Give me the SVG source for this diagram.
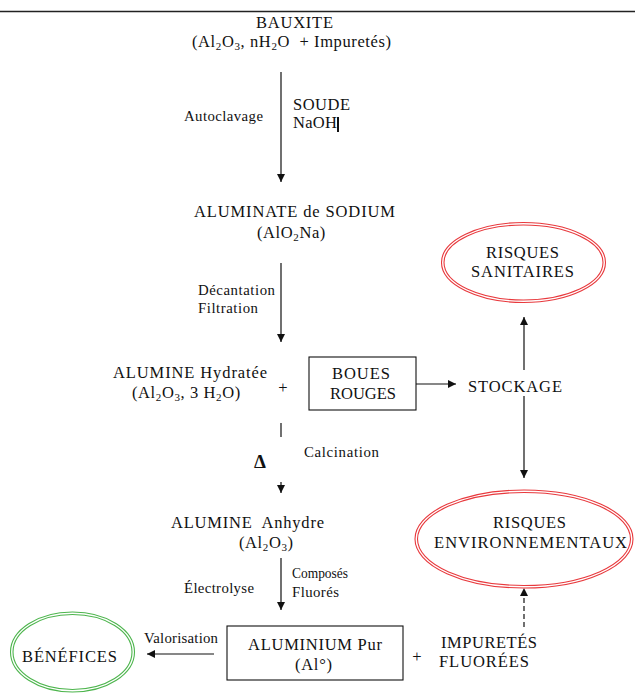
<svg xmlns="http://www.w3.org/2000/svg" width="635" height="693" viewBox="0 0 635 693">
<style>
text{font-family:"Liberation Serif","Times New Roman",serif;fill:#111}
.L{font-size:16.5px}
.S{font-size:14.8px}
.sub{font-size:11px}
.ln{stroke:#111;stroke-width:1.2;fill:none}
.red{fill:none;stroke:#e8393d;stroke-width:1.1}
.grn{fill:none;stroke:#4db54d;stroke-width:1.1}
.box{fill:#fff;stroke:#111;stroke-width:1.1}
</style>
<defs>
<marker id="ah" markerUnits="userSpaceOnUse" markerWidth="9" markerHeight="8" refX="8" refY="4" orient="auto">
<path d="M0,0 L8,4 L0,8 z" fill="#111"/>
</marker>
</defs>
<line x1="0" y1="11.5" x2="635" y2="11.5" stroke="#222" stroke-width="1.3"/>

<g id="connectors">
<line class="ln" x1="281" y1="72" x2="281" y2="182" marker-end="url(#ah)"/>
<line class="ln" x1="281" y1="263" x2="281" y2="342" marker-end="url(#ah)"/>
<line class="ln" x1="281" y1="423" x2="281" y2="437"/>
<line class="ln" x1="281" y1="482" x2="281" y2="493" marker-end="url(#ah)"/>
<line class="ln" x1="281" y1="558" x2="281" y2="610" marker-end="url(#ah)"/>
<line class="ln" x1="416" y1="384" x2="456" y2="384" marker-end="url(#ah)"/>
<line class="ln" x1="524" y1="370" x2="524" y2="317" marker-end="url(#ah)"/>
<line class="ln" x1="524" y1="396" x2="524" y2="478" marker-end="url(#ah)"/>
<line class="ln" x1="524" y1="627" x2="524" y2="588" stroke-dasharray="5,3" marker-end="url(#ah)"/>
<line class="ln" x1="214" y1="654" x2="147" y2="654" marker-end="url(#ah)"/>
</g>

<g id="bauxite">
<text class="L" x="256" y="28" textLength="77" lengthAdjust="spacing">BAUXITE</text>
<text class="L" x="192" y="47" letter-spacing="0.6" xml:space="preserve">(Al<tspan class="sub" dy="3">2</tspan><tspan dy="-3">O</tspan><tspan class="sub" dy="3">3</tspan><tspan dy="-3">, nH</tspan><tspan class="sub" dy="3">2</tspan><tspan dy="-3">O  + Impuretés)</tspan></text>
</g>

<g id="soude">
<text class="L" x="293" y="110" textLength="57" lengthAdjust="spacing">SOUDE</text>
<text class="L" x="293" y="128" textLength="44" lengthAdjust="spacing">NaOH</text>
<rect x="337" y="117" width="2" height="15" fill="#111"/>
</g>
<text id="autoclavage" class="S" x="184" y="121" textLength="79" lengthAdjust="spacing">Autoclavage</text>

<g id="aluminate">
<text class="L" x="194" y="217" textLength="201" lengthAdjust="spacing">ALUMINATE de SODIUM</text>
<text class="L" x="257" y="238" letter-spacing="0.6">(AlO<tspan class="sub" dy="3">2</tspan><tspan dy="-3">Na)</tspan></text>
</g>

<g id="decantation">
<text class="S" x="198" y="295" textLength="77" lengthAdjust="spacing">Décantation</text>
<text class="S" x="198" y="313" textLength="60" lengthAdjust="spacing">Filtration</text>
</g>

<g id="alumine-hydratee">
<text class="L" x="113" y="378" textLength="154" lengthAdjust="spacing">ALUMINE Hydratée</text>
<text class="L" x="132" y="398" letter-spacing="0.6">(Al<tspan class="sub" dy="3">2</tspan><tspan dy="-3">O</tspan><tspan class="sub" dy="3">3</tspan><tspan dy="-3">, 3 H</tspan><tspan class="sub" dy="3">2</tspan><tspan dy="-3">O)</tspan></text>
</g>
<text class="L" x="283" y="393" text-anchor="middle">+</text>

<g id="boues-rouges">
<rect class="box" x="309" y="357" width="107" height="53"/>
<text class="L" x="332" y="379" textLength="58" lengthAdjust="spacing">BOUES</text>
<text class="L" x="330" y="399" textLength="66" lengthAdjust="spacing">ROUGES</text>
</g>

<g id="stockage">
<text class="L" x="468" y="392" textLength="94" lengthAdjust="spacing">STOCKAGE</text>
</g>

<g id="risques-sanitaires">
<ellipse class="red" cx="523.5" cy="262.5" rx="82" ry="40"/>
<ellipse class="red" cx="523.5" cy="262.5" rx="79.5" ry="37.5"/>
<text class="L" x="486" y="258" textLength="73" lengthAdjust="spacing">RISQUES</text>
<text class="L" x="471" y="277" textLength="103" lengthAdjust="spacing">SANITAIRES</text>
</g>

<g id="calcination">
<text x="254" y="468" font-weight="bold" font-size="19">Δ</text>
<text class="S" x="304" y="457" textLength="75" lengthAdjust="spacing">Calcination</text>
</g>

<g id="alumine-anhydre">
<text class="L" x="171" y="528" textLength="153" lengthAdjust="spacing" xml:space="preserve">ALUMINE  Anhydre</text>
<text class="L" x="239" y="548" letter-spacing="0.6">(Al<tspan class="sub" dy="3">2</tspan><tspan dy="-3">O</tspan><tspan class="sub" dy="3">3</tspan><tspan dy="-3">)</tspan></text>
</g>

<g id="electrolyse">
<text class="S" x="184" y="593" textLength="70" lengthAdjust="spacing">Électrolyse</text>
<text class="S" x="292" y="578" textLength="56" lengthAdjust="spacingAndGlyphs">Composés</text>
<text class="S" x="292" y="597" textLength="47" lengthAdjust="spacing">Fluorés</text>
</g>

<g id="risques-environnementaux">
<ellipse class="red" cx="524" cy="539" rx="109" ry="49"/>
<ellipse class="red" cx="524" cy="539" rx="106.5" ry="46.5"/>
<text class="L" x="493" y="528" textLength="73" lengthAdjust="spacing">RISQUES</text>
<text class="L" x="434" y="548" textLength="193" lengthAdjust="spacing">ENVIRONNEMENTAUX</text>
</g>

<g id="aluminium">
<rect class="box" x="227" y="626" width="176" height="54"/>
<text class="L" x="248" y="650" textLength="134" lengthAdjust="spacing">ALUMINIUM Pur</text>
<text class="L" x="295" y="670" textLength="37" lengthAdjust="spacing">(Al°)</text>
</g>
<text class="L" x="417" y="662" text-anchor="middle">+</text>

<g id="impuretes-fluorees">
<text class="L" x="441" y="648" textLength="96" lengthAdjust="spacing">IMPURETÉS</text>
<text class="L" x="439" y="667" textLength="90" lengthAdjust="spacing">FLUORÉES</text>
</g>

<text id="valorisation" class="S" x="144" y="643" textLength="74" lengthAdjust="spacing">Valorisation</text>

<g id="benefices">
<ellipse class="grn" cx="72.5" cy="652" rx="62" ry="40"/>
<ellipse class="grn" cx="72.5" cy="652" rx="59.5" ry="37.5"/>
<text class="L" x="22" y="662" textLength="95" lengthAdjust="spacing">BÉNÉFICES</text>
</g>
</svg>
